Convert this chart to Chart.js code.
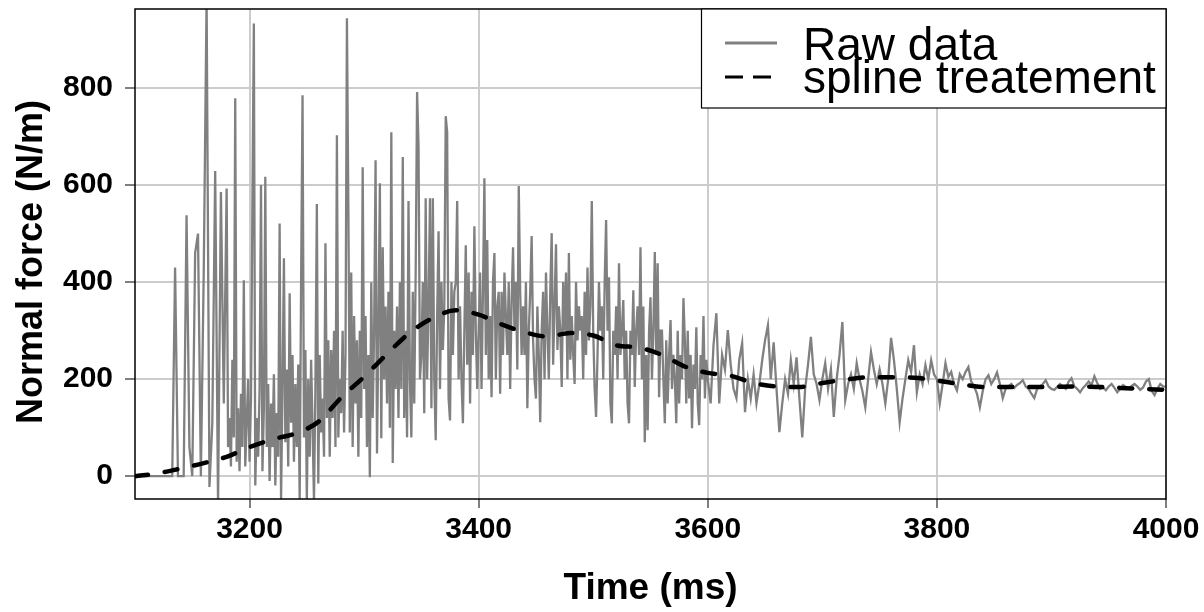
<!DOCTYPE html>
<html>
<head>
<meta charset="utf-8">
<script src="https://cdn.jsdelivr.net/npm/chart.js@4"></script>
<style>
  html, body { margin: 0; padding: 0; background: #fff; }
  #wrap { width: 1204px; height: 612px; position: relative; }
</style>
</head>
<body>
<div id="wrap"><canvas id="forceChart" width="1204" height="612"></canvas></div>
<script>
// axis ticks
const xTicks = [3200, 3400, 3600, 3800, 4000];
const yTicks = [0, 200, 400, 600, 800];

// raw signal, read in three stretches (start ms, step ms, values)
// quiet start with isolated spikes, 2.5 ms apart
const rawAStart = 3100, rawAStep = 2.5;
const rawAForce = [
  0, 0, 0, 0, 0, 0, 0, 0, 0, 0,
  0, 0, 0, 0, 430, 0, 0, 0, 538, 60,
  0, 460, 500, 0, 420, 985, -22, 110, 629, -60,
  586, 150
];

// dense burst, 1.25 ms apart (one row = 10 ms)
const rawBStart = 3180, rawBStep = 1.25;
const rawBForce = [
  593, 60, 120, 20, 240, 80, 779, 30,      // 3180
  140, 10, 170, 60, 404, 20, 110, 200,     // 3190
  30, 160, 565, 933, -19, 120, 40, 180,    // 3200
  600, 10, 140, 617, 60, 190, -10, 150,    // 3210
  60, 210, -19, 130, 40, 521, -50, 180,    // 3220
  449, 70, 220, 20, 377, 110, 250, 30,     // 3230
  190, 60, 230, -50, 404, 785, 80, 260,    // 3240
  -50, 200, 40, 240, 100, -50, 190, 561,   // 3250
  -15, 250, 90, 160, 40, 480, 120, 280,    // 3260
  40, 260, 120, 300, 60, 703, 80, 200,     // 3270
  130, 300, 90, 250, 944, 552, 90, 420,    // 3280
  60, 330, 150, 280, 40, 300, 120, 637,    // 3290
  180, 330, 60, 250, -2, 400, 120, 300,    // 3300
  651, 47, 300, 604, 78, 472, 200, 350,    // 3310
  150, 380, 100, 709, 27, 300, 180, 350,   // 3320
  120, 400, 180, 658, 120, 300, 80, 567,   // 3330
  200, 80, 380, 150, 420, 792, 682, 200,   // 3340
  250, 400, 130, 573, 200, 350, 573, 140,  // 3350
  573, 200, 74, 330, 505, 180, 400, 260,   // 3360
  350, 742, 709, 160, 115, 400, 250, 380,  // 3370
  400, 567, 200, 350, 200, 109, 300, 476,  // 3380
  230, 420, 150, 380, 250, 515, 300, 180,  // 3390
  300, 420, 180, 380, 614, 250, 487, 200,  // 3400
  330, 163, 400, 460, 200, 350, 380, 170,  // 3410
  380, 250, 420, 330, 250, 400, 180, 360,  // 3420
  472, 300, 400, 220, 598, 380, 250, 350,  // 3430
  250, 400, 140, 300, 380, 495, 280, 200,  // 3440
  160, 350, 250, 111, 300, 380, 200, 420,  // 3450
  300, 200, 380, 501, 230, 350, 478, 260,  // 3460
  350, 300, 184, 400, 300, 420, 200, 460,  // 3470
  240, 330, 250, 190, 400, 280, 350, 300,  // 3480
  330, 200, 380, 250, 430, 280, 350, 567,  // 3490
  300, 180, 122, 250, 400, 300, 350, 200,  // 3500
  400, 528, 300, 410, 150, 109, 300, 250,  // 3510
  350, 200, 439, 250, 300, 363, 200, 300,  // 3520
  150, 109, 300, 250, 383, 184, 300, 350,  // 3530
  250, 472, 200, 350, 70, 250, 95, 300,    // 3540
  369, 200, 300, 462, 250, 439, 163, 300,  // 3550
  300, 200, 109, 280, 150, 250, 322, 180,  // 3560
  250, 200, 109, 300, 150, 250, 200, 367,  // 3570
  280, 150, 300, 160, 250, 99, 230, 180,   // 3580
  307, 150, 105, 250, 200, 330, 160, 240   // 3590
];

// settling tail, 2.5 ms apart
const rawCStart = 3600, rawCStep = 2.5;
const rawCForce = [
  200, 150, 270, 336, 150, 250, 220, 301, 230, 180,          // 3600
  161, 240, 274, 132, 200, 160, 210, 150, 190, 239,
  280, 311, 200, 276, 180, 91, 150, 200, 170, 239,           // 3650
  190, 245, 160, 80, 180, 230, 287, 210, 190, 157,
  200, 233, 180, 220, 122, 200, 250, 318, 157, 190,          // 3700
  210, 180, 233, 200, 175, 142, 200, 256, 220, 190,
  220, 190, 150, 200, 285, 240, 180, 111, 160, 200,          // 3750
  239, 215, 270, 173, 210, 190, 229, 200, 239, 210,
  200, 150, 190, 233, 205, 215, 190, 177, 210, 200,          // 3800
  215, 225, 195, 185, 170, 142, 175, 200, 208, 190,
  200, 214, 190, 161, 180, 185, 190, 182, 188, 192,          // 3850
  198, 185, 180, 170, 161, 180, 185, 190, 198, 185,
  180, 178, 184, 190, 185, 180, 195, 202, 185, 180,          // 3900
  173, 182, 188, 195, 188, 206, 192, 180, 183, 177,
  185, 190, 182, 173, 180, 188, 184, 180, 186, 190,          // 3950
  185, 178, 183, 195, 200, 176, 167, 180, 190, 185,
  184
];

// smoothed curve read at its knots
const splineTime = [3100, 3120, 3140, 3160, 3180, 3200, 3220, 3240, 3260, 3280,
  3300, 3320, 3340, 3360, 3380, 3400, 3420, 3440, 3460, 3480,
  3500, 3520, 3540, 3560, 3580, 3600, 3620, 3640, 3660, 3680,
  3700, 3720, 3740, 3760, 3780, 3800, 3820, 3840, 3860, 3880,
  3900, 3920, 3940, 3960, 3980, 4000];
const splineForce = [0, 6, 16, 27, 40, 60, 76, 88, 112, 162,
  205, 252, 296, 326, 342, 333, 313, 297, 288, 295,
  290, 270, 265, 250, 226, 213, 207, 192, 185, 184,
  192, 199, 204, 204, 203, 197, 190, 184, 184, 184,
  184, 185, 184, 182, 180, 178];

function toPoints(start, step, values) {
  return values.map((v, i) => ({ x: start + i * step, y: v }));
}
const rawPoints = [
  ...toPoints(rawAStart, rawAStep, rawAForce),
  ...toPoints(rawBStart, rawBStep, rawBForce),
  ...toPoints(rawCStart, rawCStep, rawCForce)
];
const splinePoints = splineTime.map((t, i) => ({ x: t, y: splineForce[i] }));

const FONT = '"Liberation Sans", Arial, Helvetica, sans-serif';

// frame, axis titles and legend box
const decorations = {
  id: 'decorations',
  afterDraw(chart) {
    const { ctx, chartArea: a } = chart;
    ctx.save();
    ctx.strokeStyle = '#000';
    ctx.lineWidth = 1.5;
    ctx.strokeRect(a.left, a.top, a.right - a.left, a.bottom - a.top);

    ctx.fillStyle = '#000';
    ctx.font = 'bold 37px ' + FONT;
    ctx.textAlign = 'center';
    ctx.textBaseline = 'middle';
    ctx.fillText('Time (ms)', (a.left + a.right) / 2, 589);

    ctx.save();
    ctx.translate(32, 262);
    ctx.rotate(-Math.PI / 2);
    ctx.font = 'bold 36px ' + FONT;
    ctx.fillText('Normal force (N/m)', 0, 0);
    ctx.restore();

    // legend
    const lx = 701.5, ly = a.top, lw = a.right - 701.5, lh = 99;
    ctx.fillStyle = '#fff';
    ctx.fillRect(lx, ly, lw, lh);
    ctx.strokeStyle = '#000';
    ctx.lineWidth = 1.2;
    ctx.strokeRect(lx, ly, lw, lh);

    ctx.lineWidth = 3;
    ctx.strokeStyle = '#808080';
    ctx.beginPath();
    ctx.moveTo(725, 43);
    ctx.lineTo(777, 43);
    ctx.stroke();
    ctx.strokeStyle = '#000';
    ctx.beginPath();
    ctx.moveTo(725, 77);
    ctx.lineTo(743, 77);
    ctx.moveTo(753, 77);
    ctx.lineTo(771, 77);
    ctx.stroke();

    ctx.fillStyle = '#000';
    ctx.font = '46px ' + FONT;
    ctx.textAlign = 'left';
    ctx.textBaseline = 'alphabetic';
    ctx.fillText('Raw data', 803, 60);
    ctx.fillText('spline treatement', 803, 93);
    ctx.restore();
  }
};

const ctx = document.getElementById('forceChart').getContext('2d');
new Chart(ctx, {
  type: 'line',
  data: {
    datasets: [{
      label: 'spline treatement',
      data: splinePoints,
      borderColor: '#000',
      borderWidth: 4.5,
      borderDash: [13, 17],
      borderCapStyle: 'round',
      cubicInterpolationMode: 'monotone',
      pointRadius: 0,
      order: 0
    }, {
      label: 'Raw data',
      data: rawPoints,
      borderColor: '#808080',
      borderWidth: 2.3,
      tension: 0,
      pointRadius: 0,
      order: 1
    }]
  },
  options: {
    responsive: false,
    animation: false,
    events: [],
    layout: { padding: { left: 0, right: 38, top: 9, bottom: 0 } },
    plugins: {
      legend: { display: false },
      tooltip: { enabled: false }
    },
    scales: {
      x: {
        type: 'linear',
        min: 3100,
        max: 4000,
        afterBuildTicks: s => { s.ticks = xTicks.map(v => ({ value: v })); },
        afterFit: s => {
          s.height = 113;
          s.paddingLeft = 0; s.paddingRight = 0;
        },
        border: { display: false },
        grid: { color: '#cccccc', lineWidth: 2, tickLength: 9, tickColor: '#555', tickWidth: 1.5 },
        ticks: {
          color: '#000',
          padding: 4,
          maxRotation: 0,
          callback: v => String(v),
          font: { family: FONT, size: 30, weight: 'bold' }
        }
      },
      y: {
        type: 'linear',
        min: -47,
        max: 963,
        afterBuildTicks: s => { s.ticks = yTicks.map(v => ({ value: v })); },
        afterFit: s => {
          s.width = 135;
          s.paddingTop = 0; s.paddingBottom = 0;
        },
        border: { display: false },
        grid: { color: '#cccccc', lineWidth: 2, tickLength: 10, tickColor: '#555', tickWidth: 1.5 },
        ticks: {
          color: '#000',
          padding: 12,
          callback: v => String(v),
          font: { family: FONT, size: 30, weight: 'bold' }
        }
      }
    }
  },
  plugins: [decorations]
});
</script>
</body>
</html>
